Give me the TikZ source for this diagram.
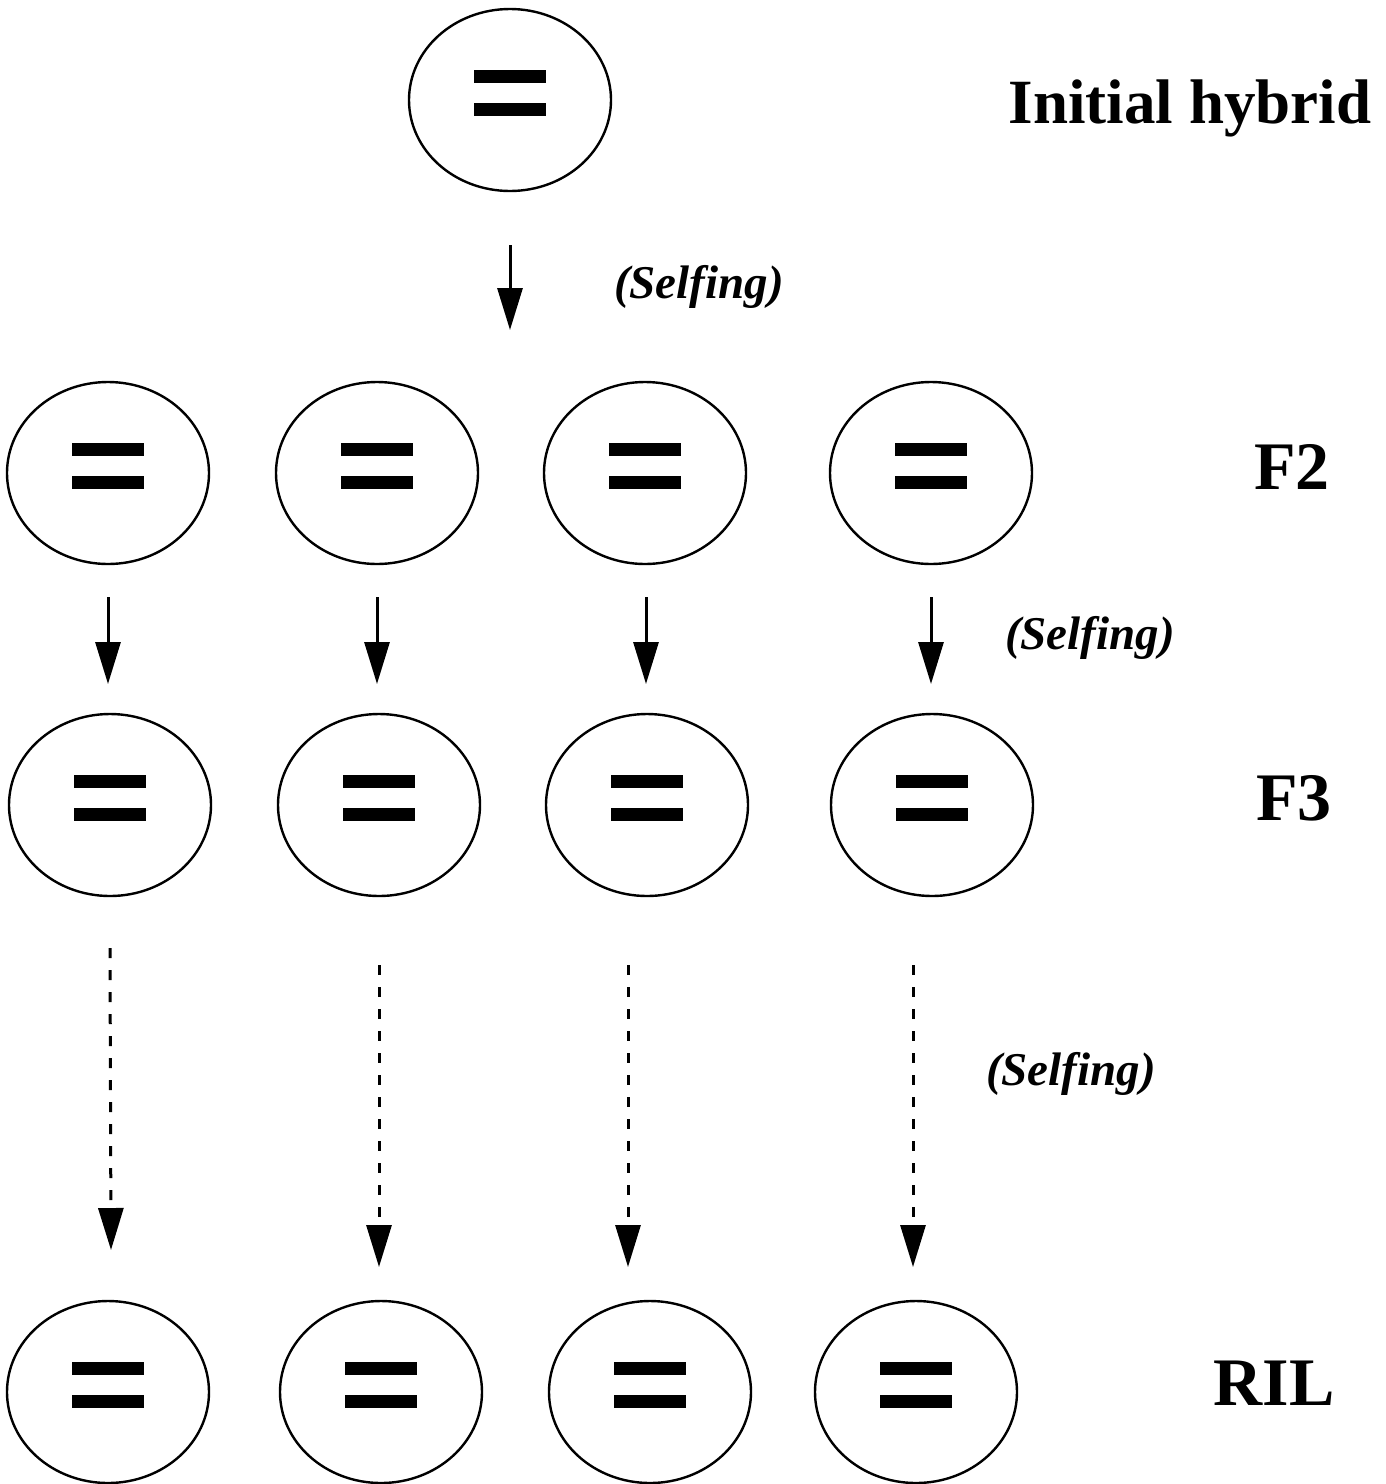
\documentclass[tikz,border=0pt]{standalone}
\usepackage{fontspec}
\setmainfont{Liberation Serif}
\usetikzlibrary{shapes.geometric,arrows.meta}
\begin{document}
\begin{tikzpicture}[x=1pt,y=-1pt,
  cell/.style={ellipse,draw,line width=2.4pt,minimum width=202pt,minimum height=182pt,inner sep=0pt,
    path picture={
      \fill ([shift={(-36pt,17pt)}]path picture bounding box.center) rectangle ++(72pt,13pt);
      \fill ([shift={(-36pt,-16pt)}]path picture bounding box.center) rectangle ++(72pt,13pt);
    }},
  solidarrow/.style={line width=3pt,-{Triangle[length=42pt,width=25pt]}},
  dasharrow/.style={line width=3pt,dash pattern=on 10pt off 12pt,-{Triangle[length=42pt,width=25pt]}},
  genlabel/.style={font=\fontsize{68}{72}\selectfont\bfseries,anchor=center},
  selflabel/.style={font=\fontsize{47}{52}\selectfont\bfseries\itshape,anchor=center}
]
\useasboundingbox (0,0) rectangle (1385,1484);

% initial hybrid
\node[cell] (p0) at (510,100) {};
\node[genlabel,font=\fontsize{63}{68}\selectfont\bfseries] (lhyb) at (1190,108) {Initial hybrid};

% F2 generation
\node[cell] (a1) at (108,473) {};
\node[cell] (a2) at (377,473) {};
\node[cell] (a3) at (645,473) {};
\node[cell] (a4) at (931,473) {};
\node[genlabel] (lf2) at (1292,467) {F2};

% F3 generation
\node[cell] (b1) at (110,805) {};
\node[cell] (b2) at (379,805) {};
\node[cell] (b3) at (647,805) {};
\node[cell] (b4) at (932,805) {};
\node[genlabel] (lf3) at (1294,798) {F3};

% recombinant inbred lines
\node[cell] (c1) at (108,1392) {};
\node[cell] (c2) at (381,1392) {};
\node[cell] (c3) at (650,1392) {};
\node[cell] (c4) at (916,1392) {};
\node[genlabel] (lril) at (1274,1383) {RIL};

% selfing steps
\coordinate (s0) at (510,245);  \coordinate (e0) at (510,330);
\draw[solidarrow] (s0) -- (e0);
\node[selflabel] (sl1) at (699,287) {(Selfing)};

\coordinate (s1) at (108,597); \coordinate (e1) at (108,684);
\coordinate (s2) at (377,597); \coordinate (e2) at (377,684);
\coordinate (s3) at (646,597); \coordinate (e3) at (646,684);
\coordinate (s4) at (931,597); \coordinate (e4) at (931,684);
\foreach \i in {1,...,4} \draw[solidarrow] (s\i) -- (e\i);
\node[selflabel] (sl2) at (1090,638) {(Selfing)};

\coordinate (t1) at (110,948);  \coordinate (u1) at (111,1250);
\coordinate (t2) at (379,965);  \coordinate (u2) at (379,1267);
\coordinate (t3) at (628,965);  \coordinate (u3) at (628,1267);
\coordinate (t4) at (913,965);  \coordinate (u4) at (913,1267);
\foreach \i in {1,...,4} \draw[dasharrow] (t\i) -- (u\i);
\node[selflabel] (sl3) at (1071,1074) {(Selfing)};
\end{tikzpicture}
\end{document}
